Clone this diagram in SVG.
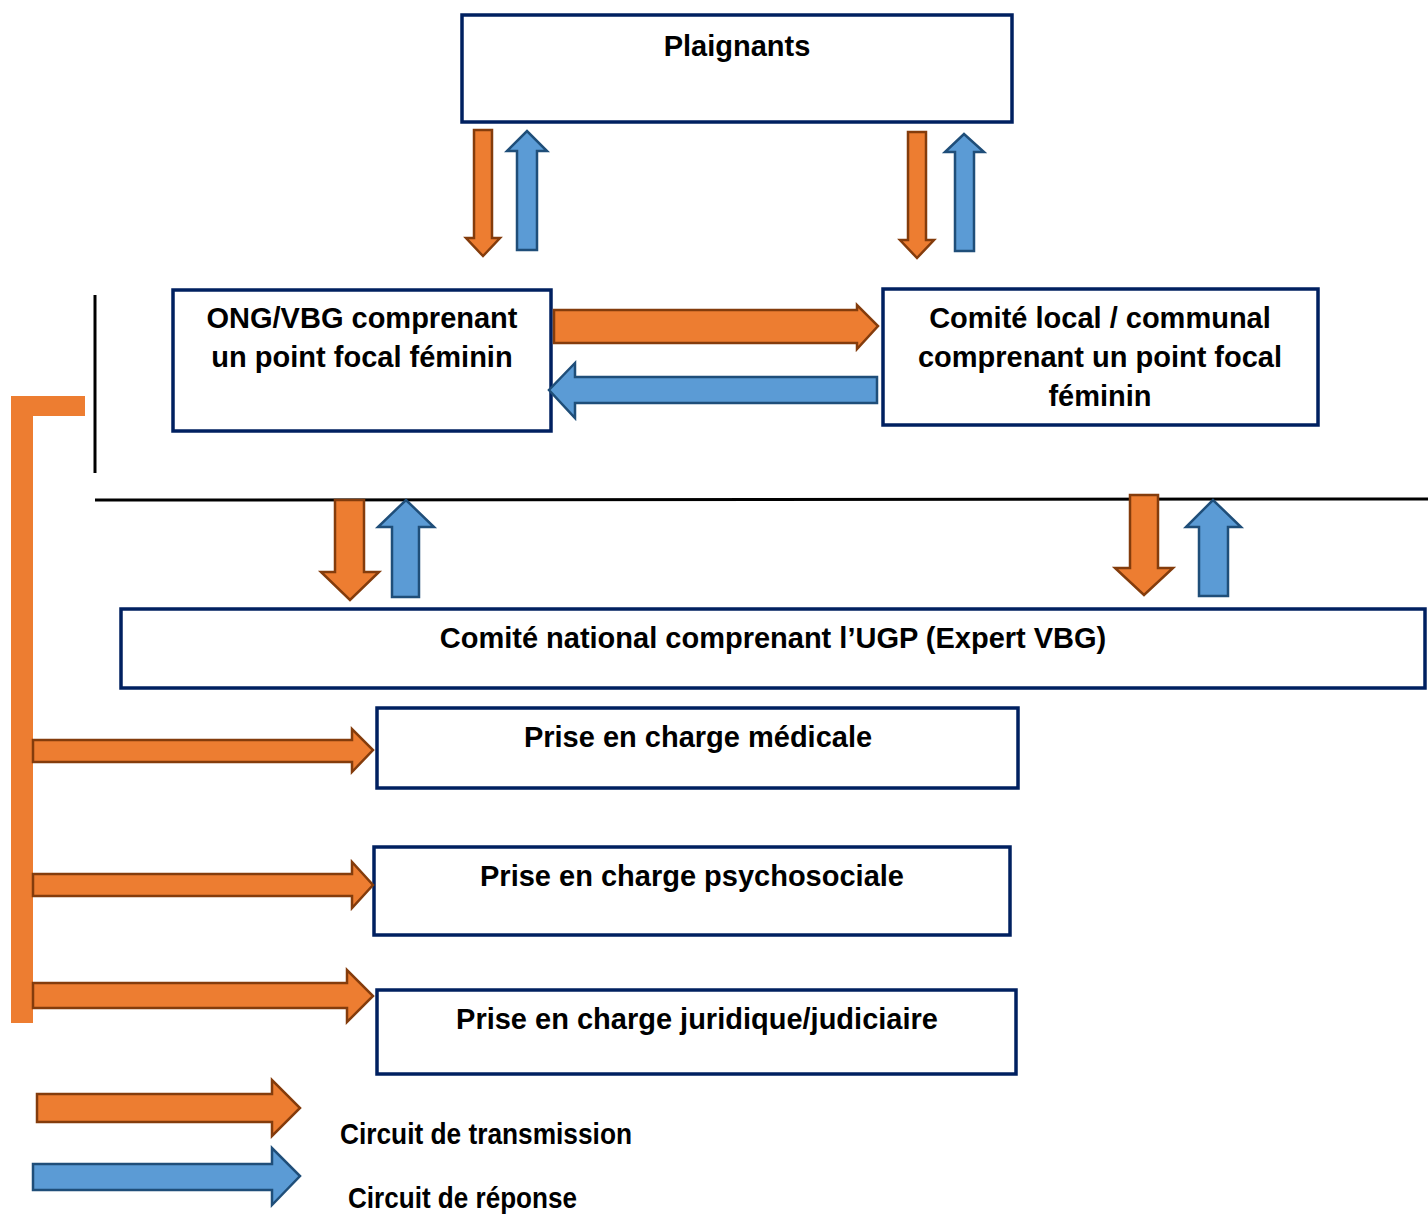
<svg xmlns="http://www.w3.org/2000/svg" width="1428" height="1216" viewBox="0 0 1428 1216">
<style>
.box{fill:#fff;stroke:#002060;stroke-width:3.5}
.t{font-family:"Liberation Sans",Arial,sans-serif;font-weight:bold;font-size:29px;fill:#000;text-anchor:middle}
.lg{font-family:"Liberation Sans",Arial,sans-serif;font-weight:bold;font-size:30px;fill:#000}
.or{fill:#ED7D31;stroke:#843C0C;stroke-width:2.5;stroke-linejoin:miter}
.bl{fill:#5B9BD5;stroke:#1F4E79;stroke-width:2.5;stroke-linejoin:miter}
.ln{stroke:#000;stroke-width:3;fill:none}
</style>
<g id="plaignants"><rect class="box" x="462" y="15" width="550" height="107"/><text class="t" x="737" y="56">Plaignants</text></g>
<g id="ong"><rect class="box" x="173" y="290" width="378" height="141"/><text class="t" x="362" y="328">ONG/VBG comprenant</text><text class="t" x="362" y="367">un point focal féminin</text></g>
<g id="comite-local"><rect class="box" x="883" y="289" width="435" height="136"/><text class="t" x="1100" y="328">Comité local / communal</text><text class="t" x="1100" y="367">comprenant un point focal</text><text class="t" x="1100" y="406">féminin</text></g>
<g id="comite-national"><rect class="box" x="121" y="609" width="1304" height="79"/><text class="t" x="773" y="648">Comité national comprenant l’UGP (Expert VBG)</text></g>
<g id="medicale"><rect class="box" x="377" y="708" width="641" height="80"/><text class="t" x="698" y="747">Prise en charge médicale</text></g>
<g id="psychosociale"><rect class="box" x="374" y="847" width="636" height="88"/><text class="t" x="692" y="886">Prise en charge psychosociale</text></g>
<g id="juridique"><rect class="box" x="377" y="990" width="639" height="84"/><text class="t" x="697" y="1029">Prise en charge juridique/judiciaire</text></g>
<g id="connectors">
<line class="ln" x1="95" y1="295" x2="95" y2="473"/>
<line class="ln" x1="95" y1="500" x2="1428" y2="499"/>
<path class="or" d="M474,130 H492 V238 H500 L483,256 L466,238 H474 Z"/>
<path class="bl" d="M517,250 V151 H507 L527,131 L547,151 H537 V250 Z"/>
<path class="or" d="M908,132 H926 V240 H934 L917,258 L900,240 H908 Z"/>
<path class="bl" d="M955,251 V152 H945 L964,134 L984,152 H974 V251 Z"/>
<path class="or" d="M554,310 H857 V305 L878,326 L857,349 V343 H554 Z"/>
<path class="bl" d="M877,377 H575 V363 L549,390 L575,418 V403 H877 Z"/>
<path class="or" d="M335,500 H364 V572 H379 L350,600 L321,572 H335 Z"/>
<path class="bl" d="M392,597 V527 H378 L406,500 L434,527 H419 V597 Z"/>
<path class="or" d="M1130,495 H1158 V568 H1173 L1144,595 L1115,568 H1130 Z"/>
<path class="bl" d="M1199,596 V527 H1186 L1213,500 L1241,527 H1228 V596 Z"/>
<path d="M11,398 V1023 H33 V416 H85 V396 H11 Z" fill="#ED7D31"/>
<path class="or" d="M33,740 H352 V729 L373,750 L352,772 V762 H33 Z"/>
<path class="or" d="M33,874 H352 V862 L373,885 L352,908 V896 H33 Z"/>
<path class="or" d="M33,983 H347 V970 L373,996 L347,1022 V1008 H33 Z"/>
</g>
<g id="legend">
<path class="or" d="M37,1094 H272 V1080 L300,1108 L272,1136 V1122 H37 Z"/>
<path class="bl" d="M33,1164 H272 V1148 L300,1176 L272,1205 V1190 H33 Z"/>
<text class="lg" x="340" y="1144" textLength="292" lengthAdjust="spacingAndGlyphs">Circuit de transmission</text>
<text class="lg" x="348" y="1208" textLength="229" lengthAdjust="spacingAndGlyphs">Circuit de réponse</text>
</g>
</svg>
